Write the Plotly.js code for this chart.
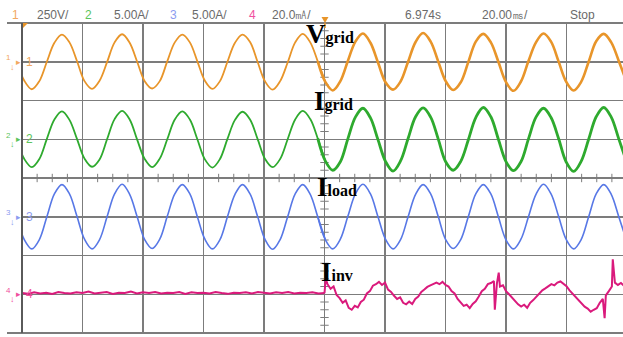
<!DOCTYPE html>
<html>
<head>
<meta charset="utf-8">
<script src="https://cdn.plot.ly/plotly-3.0.1.min.js"></script>
<style>html,body{margin:0;padding:0;background:#fff;}#chart{width:623px;height:337px;}</style>
</head>
<body>
<div id="chart"></div>
<script>
// ---- Data (time in ms, trace values in screen divisions relative to each channel's ground marker) ----
const tMain = [-101.73,-99.24,-96.75,-94.26,-91.78,-89.29,-86.80,-84.31,-81.83,-79.34,-76.85,-74.36,-71.88,-69.39,-66.90,-64.41,-61.93,-59.44,-56.95,-54.46,-51.98,-49.49,-47.00,-44.51,-42.03,-39.54,-37.05,-34.56,-32.08,-29.59,-27.10,-24.61,-22.13,-19.64,-17.15,-14.66,-12.18,-9.69,-7.20,-4.71,-2.23,0.26,2.75,5.24,7.72,10.21,12.70,15.19,17.68,20.16,22.65,25.14,27.63,30.11,32.60,35.09,37.58,40.06,42.55,45.04,47.53,50.01,52.50,54.99,57.48,59.96,62.45,64.94,67.43,69.91,72.40,74.89,77.38,79.86,82.35,84.84,87.33,89.81,92.30,94.79,97.28,99.76];

const vGrid = [0.01,-0.49,-0.71,-0.50,0.00,0.49,0.70,0.50,
  0.02,-0.50,-0.70,-0.49,-0.01,0.50,0.71,0.49,
  0.00,-0.50,-0.69,-0.50,0.01,0.50,0.70,0.50,
  0.01,-0.49,-0.70,-0.50,0.00,0.49,0.70,0.51,
  0.00,-0.51,-0.72,-0.50,-0.02,0.50,0.72,0.50,
  0.01,-0.52,-0.74,-0.50,0.02,0.52,0.73,0.49,
  -0.02,-0.53,-0.72,-0.51,0.00,0.51,0.74,0.52,
  0.01,-0.50,-0.73,-0.53,-0.01,0.52,0.72,0.50,
  0.00,-0.52,-0.75,-0.51,0.02,0.50,0.73,0.52,
  0.01,-0.51,-0.74,-0.52,0.00,0.53,0.72,0.50,
  0.02,-0.50];

const iGrid = [0.00,-0.51,-0.72,-0.51,0.01,0.51,0.72,0.50,
  0.01,-0.50,-0.71,-0.52,0.00,0.52,0.73,0.51,
  -0.01,-0.51,-0.72,-0.50,0.00,0.51,0.72,0.51,
  0.00,-0.52,-0.73,-0.51,0.01,0.50,0.71,0.51,
  0.01,-0.51,-0.72,-0.51,0.00,0.51,0.73,0.52,
  0.02,-0.56,-0.80,-0.58,0.01,0.57,0.80,0.55,
  -0.01,-0.57,-0.82,-0.56,0.02,0.58,0.81,0.57,
  0.01,-0.58,-0.80,-0.57,-0.02,0.56,0.82,0.58,
  0.00,-0.57,-0.81,-0.58,0.01,0.57,0.80,0.56,
  0.02,-0.58,-0.83,-0.57,0.00,0.58,0.82,0.57,
  0.01,-0.56];

const iLoad = [0.00,-0.59,-0.83,-0.59,0.00,0.59,0.83,0.59,
  0.01,-0.58,-0.83,-0.59,0.00,0.59,0.84,0.58,
  0.00,-0.59,-0.82,-0.58,0.01,0.59,0.83,0.59,
  0.00,-0.58,-0.83,-0.59,0.00,0.58,0.83,0.59,
  0.01,-0.59,-0.84,-0.59,0.00,0.59,0.83,0.58,
  0.00,-0.59,-0.83,-0.58,0.01,0.59,0.84,0.59,
  0.00,-0.58,-0.83,-0.59,0.00,0.58,0.83,0.59,
  0.01,-0.59,-0.82,-0.59,0.00,0.59,0.83,0.59,
  0.00,-0.59,-0.83,-0.58,0.00,0.58,0.84,0.59,
  0.01,-0.58,-0.83,-0.59,0.00,0.59,0.83,0.58,
  0.00,-0.59];

const tInvPre = [-100,-98,-96,-94,-92,-90,-88,-86,-84,-82,-80,-78,-76,-74,-72,-70,-68,-66,-64,-62,-60,-58,-56,-54,-52,-50,-48,-46,-44,-42,-40,-38,-36,-34,-32,-30,-28,-26,-24,-22,-20,-18,-16,-14,-12,-10,-8,-6,-4,-2,0];
const iInvPre = [0.03,0.01,0.05,0.02,0.04,0.01,0.06,0.03,0.02,0.05,0.03,0.07,0.02,0.04,0.06,0.01,0.04,0.03,0.07,0.02,0.05,0.03,0.06,0.02,0.04,0.03,0.06,0.01,0.05,0.03,0.04,0.02,0.06,0.03,0.01,0.04,0.03,0.05,0.02,0.06,0.04,0.02,0.05,0.03,0.06,0.02,0.04,0.03,0.05,0.02,0.03];

const tInvPost = [0,0.4,1,2,3,4,5,6,7,8,9,10,11,12,13,14,15,16,17,18,19,20,21,22,23,24,25,26,27,28,29,30,31,32,33,34,35,36,37,38,39,40,41,42,43,44,45,46,47,48,49,50,51,52,53,54,55,56,56.3,57,57.6,58,59,60,61,62,63,64,65,66,67,68,69,70,71,72,73,74,75,76,77,78,79,80,81,82,83,84,85,86,87,88,89,90,91,92,92.6,93,94,95,95.3,96,97,98,99];
const iInvPost = [0.03,0.40,0.26,0.14,0.20,-0.02,-0.10,-0.22,-0.16,-0.35,-0.40,-0.30,-0.34,-0.20,-0.14,0.02,0.08,0.22,0.26,0.32,0.24,0.30,0.12,0.06,-0.04,-0.12,-0.08,-0.22,-0.26,-0.19,-0.25,-0.12,-0.06,0.06,0.12,0.19,0.23,0.27,0.30,0.26,0.32,0.24,0.20,0.08,0.02,-0.12,-0.20,-0.30,-0.27,-0.36,-0.25,-0.18,-0.06,0.08,0.14,0.26,0.29,0.34,-0.40,0.28,0.56,0.20,0.23,0.08,0.00,-0.09,-0.18,-0.26,-0.32,-0.27,-0.35,-0.22,-0.15,-0.07,0.02,0.10,0.15,0.20,0.26,0.23,0.30,0.33,0.26,0.21,0.10,0.02,-0.08,-0.16,-0.24,-0.32,-0.37,-0.45,-0.40,-0.36,-0.22,-0.12,-0.62,-0.03,0.08,0.20,0.90,0.30,0.24,0.29,0.22];

// channel header / scale labels
const chNames = ["1","2","3","4"];
const chScales = ["250V/","5.00A/","5.00A/","20.0\u3383/"];
const chOffsets = [3, 1, -1, -3];           // ground marker position (div)
const timeInfo = ["6.974s", "20.00\u33b3/", "Stop"];
const waveLabels = [["V","grid"],["I","grid"],["I","load"],["I","inv"]];

// ---- Styling ----
const colors = ["#E8952A", "#2EAA2E", "#5878E6", "#DA1A7C"];
const labelColors = ["#F2A860", "#5CC45C", "#8C9CF0", "#F0509E"];
const gridColor = "#7c7c7c";

const W = 623, H = 337, L = 22, T = 23, B = 4;
const plotW = W - L, plotH = H - T - B;
const divPx = 60.5;
const xStart = -100, xEnd = xStart + plotW / divPx * 20;
const px = x => (x - L) / plotW;
const py = y => (H - B - y) / plotH;

function shift(arr, off) { return arr.map(v => v + off); }
const splitIdx = tMain.findIndex(t => t > 0);

const traces = [];
// center-line minor ticks
const hx = [], hy = [], vx = [], vy = [];
for (let k = -95; k < xEnd; k += 5) { if (k % 20 !== 0) { hx.push(k); hy.push(0); } }
for (let k = -19; k <= 19; k++) { if (k % 5 !== 0) { vx.push(0); vy.push(k / 5); } }
traces.push({x: hx, y: hy, mode: 'markers', marker: {symbol: 'line-ns', size: 6, line: {color: gridColor, width: 1}}, hoverinfo: 'skip'});
traces.push({x: vx, y: vy, mode: 'markers', marker: {symbol: 'line-ew', size: 6, line: {color: gridColor, width: 1}}, hoverinfo: 'skip'});

const series = [vGrid, iGrid, iLoad];
const preW = [1.8, 1.8, 1.6], postW = [2.6, 2.8, 1.6];
series.forEach((s, c) => {
  traces.push({x: tMain.slice(0, splitIdx + 1), y: shift(s.slice(0, splitIdx + 1), chOffsets[c]),
    mode: 'lines', line: {color: colors[c], width: preW[c], shape: 'spline', smoothing: 1}, hoverinfo: 'skip'});
  traces.push({x: tMain.slice(splitIdx - 1), y: shift(s.slice(splitIdx - 1), chOffsets[c]),
    mode: 'lines', line: {color: colors[c], width: postW[c], shape: 'spline', smoothing: 1}, hoverinfo: 'skip'});
});
traces.push({x: tInvPre, y: shift(iInvPre, chOffsets[3]), mode: 'lines', line: {color: colors[3], width: 2}, hoverinfo: 'skip'});
traces.push({x: tInvPost, y: shift(iInvPost, chOffsets[3]), mode: 'lines', line: {color: colors[3], width: 2}, hoverinfo: 'skip'});

const ann = [];
const hdrFont = {family: 'Liberation Sans, Arial, sans-serif', size: 12, color: '#6a6a6a'};
const hdrNumX = [15, 88, 173, 252], hdrScaleX = [35, 112, 190, 270];
chNames.forEach((n, i) => {
  ann.push({xref: 'paper', yref: 'paper', x: px(hdrNumX[i]), y: py(15), text: n, showarrow: false, xanchor: 'center', yanchor: 'middle', font: {family: hdrFont.family, size: 12, color: labelColors[i]}});
  ann.push({xref: 'paper', yref: 'paper', x: px(hdrScaleX[i]), y: py(15), text: chScales[i], showarrow: false, xanchor: 'left', yanchor: 'middle', font: hdrFont});
});
const infoX = [403, 480, 568];
timeInfo.forEach((s, i) => ann.push({xref: 'paper', yref: 'paper', x: px(infoX[i]), y: py(15), text: s, showarrow: false, xanchor: 'left', yanchor: 'middle', font: hdrFont}));

// channel ground markers on the left
chOffsets.forEach((o, i) => {
  const f = {family: 'Liberation Sans, Arial, sans-serif', color: labelColors[i]};
  ann.push({xref: 'paper', yref: 'y', x: px(29), y: o, text: chNames[i], showarrow: false, xanchor: 'center', yanchor: 'middle', font: Object.assign({size: 12}, f)});
  ann.push({xref: 'paper', yref: 'y', x: px(9), y: o + 0.1, text: chNames[i], showarrow: false, xanchor: 'center', yanchor: 'middle', font: Object.assign({size: 8}, f)});
  ann.push({xref: 'paper', yref: 'y', x: px(12), y: o - 0.13, text: '\u2193', showarrow: false, xanchor: 'center', yanchor: 'middle', font: Object.assign({size: 9}, f)});
  ann.push({xref: 'paper', yref: 'y', x: px(18.5), y: o, text: '\u25B8', showarrow: false, xanchor: 'center', yanchor: 'middle', font: Object.assign({size: 9}, f)});
});

// waveform labels
const lblX = [304, 312, 315, 319], lblY = [51, 118, 204, 289];
waveLabels.forEach((l, i) => {
  ann.push({xref: 'paper', yref: 'paper', x: px(lblX[i]), y: py(lblY[i]), xanchor: 'left', yanchor: 'bottom', showarrow: false,
    text: '<b>' + l[0] + '<span style="font-size:16px">' + l[1] + '</span></b>',
    font: {family: 'Liberation Serif, Times New Roman, serif', size: 27, color: '#000'}});
});

const shapes = [
  {type: 'line', xref: 'paper', yref: 'paper', x0: px(7), x1: 1, y0: 1, y1: 1, line: {color: gridColor, width: 2}},
  {type: 'line', xref: 'paper', yref: 'paper', x0: px(7), x1: 1, y0: 0, y1: 0, line: {color: gridColor, width: 2}},
  {type: 'line', xref: 'paper', yref: 'paper', x0: 0, x1: 0, y0: 0, y1: 1, line: {color: '#5a5a5a', width: 2}},
  {type: 'path', xref: 'paper', yref: 'paper', path: `M ${px(23)} ${py(23)} L ${px(28)} ${py(23)} L ${px(23)} ${py(28)} Z`, fillcolor: colors[0], line: {width: 0}},
  {type: 'path', xref: 'paper', yref: 'paper', path: `M ${px(321.5)} ${py(17)} L ${px(328.5)} ${py(17)} L ${px(325)} ${py(23)} Z`, fillcolor: colors[0], line: {width: 0}},
  {type: 'line', xref: 'paper', yref: 'paper', x0: px(325), x1: px(325), y0: py(23), y1: py(28), line: {color: colors[0], width: 1.5}}
];

const layout = {
  width: W, height: H,
  margin: {l: L, r: 0, t: T, b: B, pad: 0},
  paper_bgcolor: '#fff', plot_bgcolor: '#fff',
  showlegend: false,
  xaxis: {range: [xStart, xEnd], dtick: 20, tick0: -100, showgrid: true, gridcolor: gridColor, gridwidth: 1.5,
    zeroline: false, showticklabels: false, ticks: '', showline: false, fixedrange: true},
  yaxis: {range: [-4, 4], dtick: 1, tick0: 0, showgrid: true, gridcolor: gridColor, gridwidth: 1.5,
    zeroline: false, showticklabels: false, ticks: '', showline: false, fixedrange: true},
  annotations: ann,
  shapes: shapes,
  hovermode: false
};

Plotly.newPlot('chart', traces, layout, {staticPlot: true, displayModeBar: false});
</script>
</body>
</html>
